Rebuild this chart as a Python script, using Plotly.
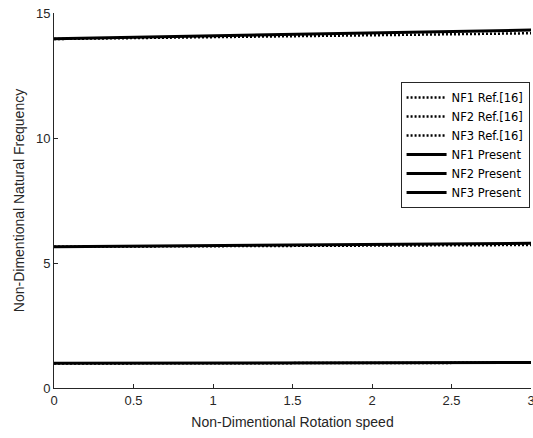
import plotly.graph_objects as go

speed = [0, 0.5, 1.0, 1.5, 2.0, 2.5, 3.0]

nf1_ref = [0.98, 0.985, 0.99, 0.995, 1.0, 1.005, 1.01]
nf2_ref = [5.65, 5.66, 5.67, 5.69, 5.70, 5.71, 5.72]
nf3_ref = [13.96, 13.99, 14.03, 14.07, 14.11, 14.15, 14.19]

nf1_pre = [0.99, 0.995, 1.0, 1.005, 1.01, 1.015, 1.02]
nf2_pre = [5.65, 5.67, 5.69, 5.72, 5.74, 5.77, 5.79]
nf3_pre = [13.97, 14.03, 14.09, 14.15, 14.20, 14.26, 14.32]

names = ["NF1 Ref.[16]", "NF2 Ref.[16]", "NF3 Ref.[16]",
         "NF1 Present", "NF2 Present", "NF3 Present"]

fig = go.Figure()
for name, ys in zip(names[:3], [nf1_ref, nf2_ref, nf3_ref]):
    fig.add_trace(go.Scatter(x=speed, y=ys, mode="lines", name=name,
                             line=dict(color="black", width=2.5, dash="2px,2px")))
for name, ys in zip(names[3:], [nf1_pre, nf2_pre, nf3_pre]):
    fig.add_trace(go.Scatter(x=speed, y=ys, mode="lines", name=name,
                             line=dict(color="black", width=3)))

axis_font = dict(family="Liberation Sans, Arial, sans-serif", size=13, color="#262626")
fig.update_layout(
    width=533, height=438,
    margin=dict(l=54, r=2, t=13, b=50),
    paper_bgcolor="white", plot_bgcolor="white",
    font=axis_font,
    xaxis=dict(range=[0, 3], tickvals=[0, 0.5, 1, 1.5, 2, 2.5, 3],
               ticktext=["0", "0.5", "1", "1.5", "2", "2.5", "3"],
               ticks="inside", ticklen=4, tickcolor="#262626",
               ticklabeloverflow="allow", automargin=False,
               showline=True, linecolor="#262626", linewidth=1,
               showgrid=False, zeroline=False,
               title=dict(text="Non-Dimentional Rotation speed", standoff=10,
                          font=dict(size=14)),
               tickfont=dict(size=13)),
    yaxis=dict(range=[0, 15], tickvals=[0, 5, 10, 15],
               ticks="inside", ticklen=4, tickcolor="#262626",
               automargin=False,
               showline=True, linecolor="#262626", linewidth=1,
               showgrid=False, zeroline=False,
               title=dict(text="Non-Dimentional Natural Frequency", standoff=8,
                          font=dict(size=14)),
               tickfont=dict(size=13)),
    legend=dict(x=0.997, y=0.816, xanchor="right", yanchor="top",
                bgcolor="white", bordercolor="#262626", borderwidth=1,
                font=dict(family="DejaVu Sans", size=11.5, color="black"),
                tracegroupgap=0, itemwidth=40),
    showlegend=True,
)

fig.write_html("out.html")
